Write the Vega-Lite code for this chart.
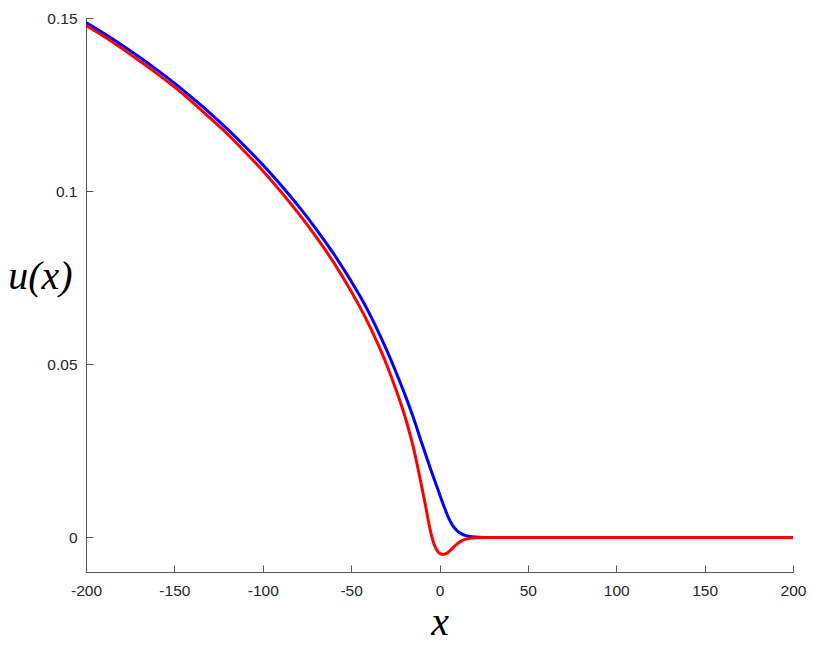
{
  "$schema": "https://vega.github.io/schema/vega-lite/v6.json",
  "width": 707,
  "height": 554,
  "autosize": {"type": "none"},
  "padding": {"left": 86, "top": 18, "right": 20, "bottom": 74},
  "background": "white",
  "config": {
    "view": {"stroke": null},
    "axis": {
      "grid": false,
      "domainColor": "#555555",
      "tickColor": "#555555",
      "domainWidth": 1,
      "tickWidth": 1,
      "tickSize": -7,
      "labelFont": "Liberation Sans",
      "labelFontSize": 15.5,
      "labelColor": "#262626",
      "labelFlush": false,
      "titleFont": "Liberation Serif",
      "titleFontStyle": "italic",
      "titleFontWeight": "normal",
      "titleFontSize": 40,
      "titleColor": "#000000"
    }
  },
  "data": {
    "values": [
      {"x": -200, "u": 0.1487, "series": "blue"},
      {"x": -190, "u": 0.1456, "series": "blue"},
      {"x": -180, "u": 0.1423, "series": "blue"},
      {"x": -170, "u": 0.1388, "series": "blue"},
      {"x": -160, "u": 0.1351, "series": "blue"},
      {"x": -150, "u": 0.1312, "series": "blue"},
      {"x": -140, "u": 0.1270, "series": "blue"},
      {"x": -130, "u": 0.1226, "series": "blue"},
      {"x": -120, "u": 0.1179, "series": "blue"},
      {"x": -110, "u": 0.1129, "series": "blue"},
      {"x": -100, "u": 0.1076, "series": "blue"},
      {"x": -90, "u": 0.1019, "series": "blue"},
      {"x": -80, "u": 0.0958, "series": "blue"},
      {"x": -70, "u": 0.0892, "series": "blue"},
      {"x": -60, "u": 0.0820, "series": "blue"},
      {"x": -50, "u": 0.0740, "series": "blue"},
      {"x": -45, "u": 0.0697, "series": "blue"},
      {"x": -40, "u": 0.0650, "series": "blue"},
      {"x": -35, "u": 0.0598, "series": "blue"},
      {"x": -30, "u": 0.0542, "series": "blue"},
      {"x": -25, "u": 0.0482, "series": "blue"},
      {"x": -20, "u": 0.0418, "series": "blue"},
      {"x": -15, "u": 0.0349, "series": "blue"},
      {"x": -10, "u": 0.0272, "series": "blue"},
      {"x": -5, "u": 0.0197, "series": "blue"},
      {"x": 0, "u": 0.0125, "series": "blue"},
      {"x": 2.5, "u": 0.0090, "series": "blue"},
      {"x": 5, "u": 0.0058, "series": "blue"},
      {"x": 7.5, "u": 0.0034, "series": "blue"},
      {"x": 10, "u": 0.0019, "series": "blue"},
      {"x": 12.5, "u": 0.0010, "series": "blue"},
      {"x": 15, "u": 0.0005, "series": "blue"},
      {"x": 20, "u": 0.0001, "series": "blue"},
      {"x": 25, "u": 0, "series": "blue"},
      {"x": 30, "u": 0, "series": "blue"},
      {"x": 50, "u": 0, "series": "blue"},
      {"x": 100, "u": 0, "series": "blue"},
      {"x": 150, "u": 0, "series": "blue"},
      {"x": 200, "u": 0, "series": "blue"},
      {"x": -200, "u": 0.1478, "series": "red"},
      {"x": -190, "u": 0.1447, "series": "red"},
      {"x": -180, "u": 0.1413, "series": "red"},
      {"x": -170, "u": 0.1377, "series": "red"},
      {"x": -160, "u": 0.1340, "series": "red"},
      {"x": -150, "u": 0.1301, "series": "red"},
      {"x": -140, "u": 0.1258, "series": "red"},
      {"x": -130, "u": 0.1212, "series": "red"},
      {"x": -120, "u": 0.1165, "series": "red"},
      {"x": -110, "u": 0.1113, "series": "red"},
      {"x": -100, "u": 0.1059, "series": "red"},
      {"x": -90, "u": 0.1000, "series": "red"},
      {"x": -80, "u": 0.0937, "series": "red"},
      {"x": -70, "u": 0.0869, "series": "red"},
      {"x": -60, "u": 0.0795, "series": "red"},
      {"x": -50, "u": 0.0711, "series": "red"},
      {"x": -45, "u": 0.0665, "series": "red"},
      {"x": -40, "u": 0.0615, "series": "red"},
      {"x": -35, "u": 0.0560, "series": "red"},
      {"x": -30, "u": 0.0500, "series": "red"},
      {"x": -25, "u": 0.0432, "series": "red"},
      {"x": -22.5, "u": 0.0396, "series": "red"},
      {"x": -20, "u": 0.0357, "series": "red"},
      {"x": -17.5, "u": 0.0313, "series": "red"},
      {"x": -15, "u": 0.0264, "series": "red"},
      {"x": -12.5, "u": 0.0207, "series": "red"},
      {"x": -10, "u": 0.0145, "series": "red"},
      {"x": -8, "u": 0.0094, "series": "red"},
      {"x": -6, "u": 0.0040, "series": "red"},
      {"x": -4, "u": -0.0005, "series": "red"},
      {"x": -2, "u": -0.0032, "series": "red"},
      {"x": 0, "u": -0.0046, "series": "red"},
      {"x": 2.5, "u": -0.0049, "series": "red"},
      {"x": 5, "u": -0.0043, "series": "red"},
      {"x": 7.5, "u": -0.0031, "series": "red"},
      {"x": 10, "u": -0.0019, "series": "red"},
      {"x": 12.5, "u": -0.0010, "series": "red"},
      {"x": 15, "u": -0.0005, "series": "red"},
      {"x": 20, "u": -0.0001, "series": "red"},
      {"x": 25, "u": 0, "series": "red"},
      {"x": 30, "u": 0, "series": "red"},
      {"x": 50, "u": 0, "series": "red"},
      {"x": 100, "u": 0, "series": "red"},
      {"x": 150, "u": 0, "series": "red"},
      {"x": 200, "u": 0, "series": "red"}
    ]
  },
  "mark": {"type": "line", "strokeWidth": 3, "interpolate": "monotone", "clip": true},
  "encoding": {
    "x": {
      "field": "x",
      "type": "quantitative",
      "scale": {"domain": [-200, 200], "nice": false, "zero": false},
      "axis": {
        "values": [-200, -150, -100, -50, 0, 50, 100, 150, 200],
        "labelExpr": "'' + datum.value",
        "labelPadding": 18,
        "title": "x",
        "titleBaseline": "alphabetic",
        "titleY": 62
      }
    },
    "y": {
      "field": "u",
      "type": "quantitative",
      "scale": {"domain": [-0.01, 0.15], "nice": false, "zero": false},
      "axis": {
        "values": [0, 0.05, 0.1, 0.15],
        "labelExpr": "'' + datum.value",
        "labelPadding": 16,
        "title": "u(x)",
        "titleAngle": 0,
        "titleAlign": "center",
        "titleBaseline": "alphabetic",
        "titleX": -46,
        "titleY": 270
      }
    },
    "color": {
      "field": "series",
      "type": "nominal",
      "scale": {"domain": ["blue", "red"], "range": ["#0000ff", "#ff0000"]},
      "legend": null
    }
  }
}
